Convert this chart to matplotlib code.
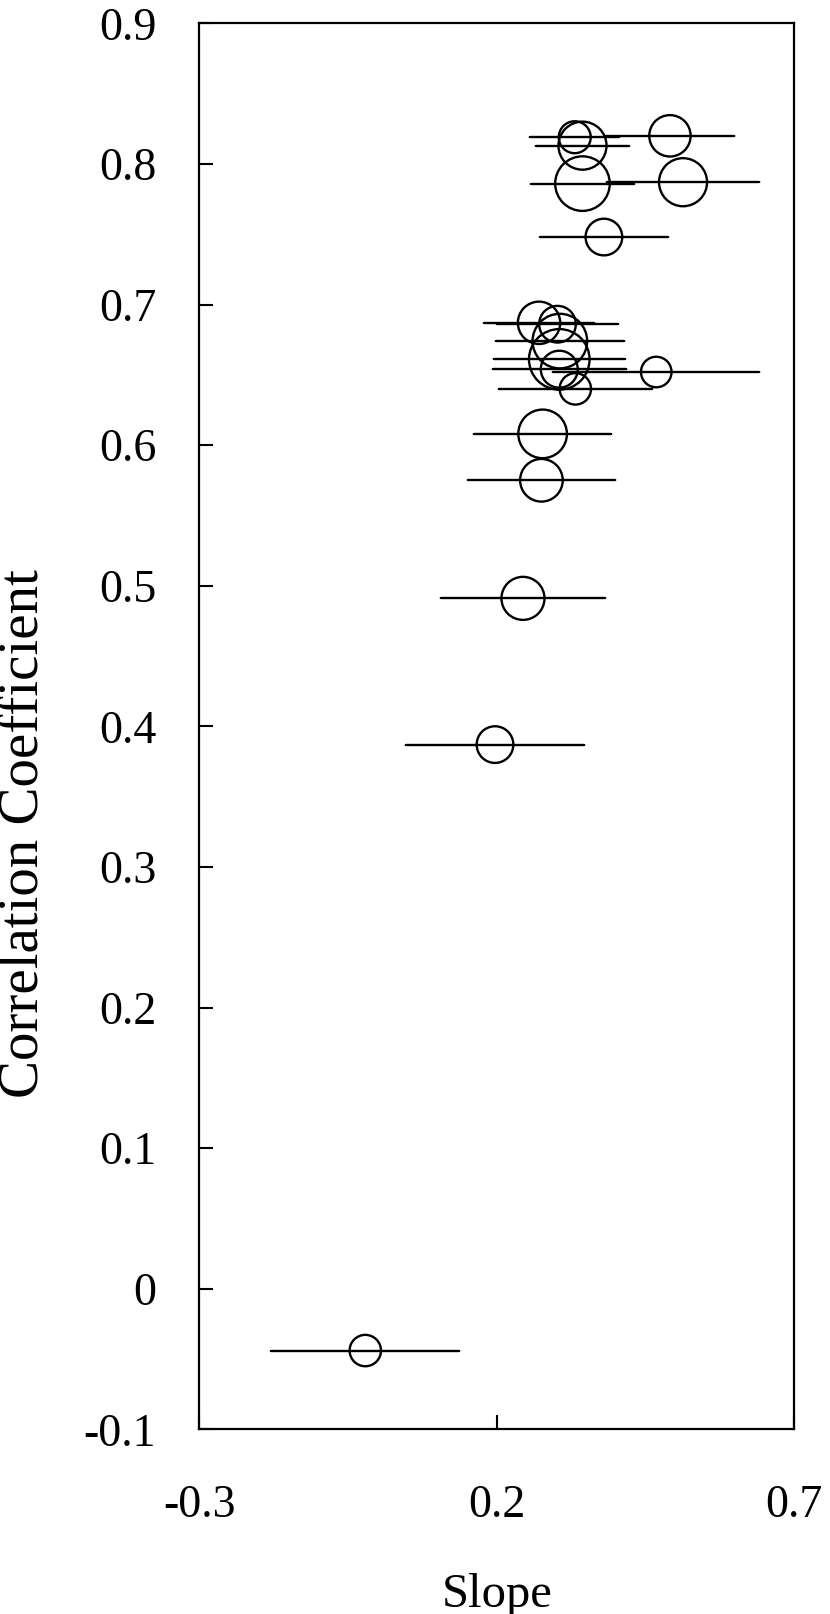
import matplotlib
matplotlib.use("Agg")
import matplotlib.pyplot as plt

plt.rcParams['font.family'] = ['Liberation Serif', 'DejaVu Serif']

# slope estimates, their half-widths, correlation coefficients and marker sizes (pt)
slope = [0.331, 0.344, 0.491, 0.344, 0.513, 0.380, 0.271, 0.302, 0.306,
         0.305, 0.305, 0.332, 0.468, 0.277, 0.275, 0.244, 0.197, -0.021]
slope_err = [0.075, 0.078, 0.108, 0.087, 0.128, 0.108, 0.092, 0.102, 0.107,
             0.110, 0.112, 0.128, 0.173, 0.115, 0.124, 0.138, 0.150, 0.158]
corr = [0.819, 0.813, 0.820, 0.786, 0.787, 0.748, 0.687, 0.686, 0.674,
        0.661, 0.654, 0.640, 0.652, 0.608, 0.575, 0.491, 0.387, -0.044]
msize = [23.0, 34.6, 29.8, 39.3, 34.6, 26.4, 30.5, 26.4, 39.3,
         43.6, 26.6, 22.6, 22.0, 35.0, 30.7, 31.0, 26.4, 22.6]

yticks = [-0.1, 0, 0.1, 0.2, 0.3, 0.4, 0.5, 0.6, 0.7, 0.8, 0.9]
ytick_labels = ['-0.1', '0', '0.1', '0.2', '0.3', '0.4', '0.5', '0.6', '0.7', '0.8', '0.9']
xticks = [-0.3, 0.2, 0.7]
xtick_labels = ['-0.3', '0.2', '0.7']

fig = plt.figure(figsize=(8.3, 16.14), dpi=100)
ax = fig.add_axes([0.2401, 0.11444, 0.7169, 0.8711])

ax.errorbar(slope, corr, xerr=slope_err, fmt='none', ecolor='black',
            elinewidth=1.7, capsize=1, capthick=1.7, zorder=2)
ax.scatter(slope, corr, s=[m ** 2 for m in msize], facecolors='none',
           edgecolors='black', linewidths=1.7, zorder=3)

ax.set_xlim(-0.3, 0.7)
ax.set_ylim(-0.1, 0.9)
ax.set_yticks(yticks)
ax.set_yticklabels(ytick_labels)
ax.set_xticks(xticks)
ax.set_xticklabels(xtick_labels)

ax.tick_params(axis='y', direction='in', length=10, width=1.5, labelsize=33, pad=31,
               left=True, right=False)
ax.tick_params(axis='x', direction='in', length=10, width=1.5, labelsize=33, pad=40,
               bottom=True, top=False)
for sp in ax.spines.values():
    sp.set_linewidth(1.6)

ax.set_xlabel('Slope', fontsize=35, labelpad=33)
ax.set_ylabel('Correlation Coefficient', fontsize=41)
ax.yaxis.set_label_coords(-0.252, 0.4234)

fig.savefig('out.png', dpi=100)
